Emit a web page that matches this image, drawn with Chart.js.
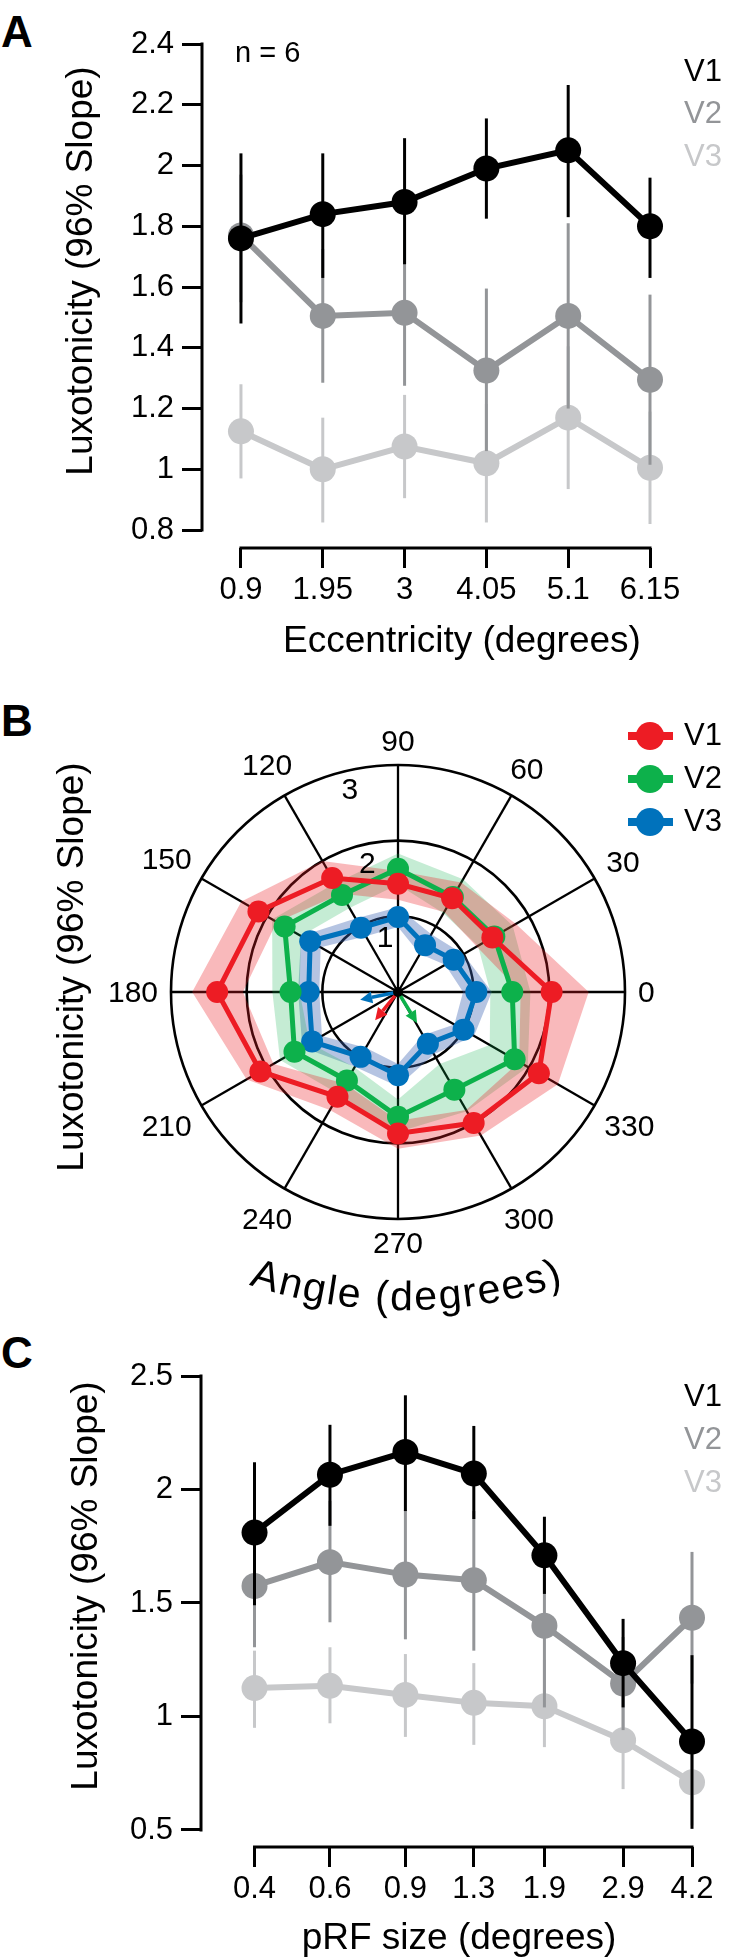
<!DOCTYPE html>
<html>
<head>
<meta charset="utf-8">
<title>Luxotonicity</title>
<script src="https://cdn.jsdelivr.net/npm/chart.js@4.4.1/dist/chart.umd.min.js"></script>
<style>
  body { margin: 0; background: #fff; width: 731px; height: 1958px; position: relative; overflow: hidden;
         font-family: 'Liberation Sans', Arial, Helvetica, sans-serif; }
  canvas { position: absolute; left: 0; }
  .tag { position: absolute; left: 1px; font-weight: bold; font-size: 44px; line-height: 44px; }
</style>
</head>
<body>
<div class="tag" style="top:10px">A</div>
<div class="tag" style="top:699px">B</div>
<div class="tag" style="top:1331px">C</div>
<canvas id="chartA" width="731" height="690" style="top:0"></canvas>
<canvas id="chartB" width="731" height="650" style="top:680px"></canvas>
<canvas id="chartC" width="731" height="658" style="top:1300px"></canvas>
<script>
const FONT = "'Liberation Sans', Arial, Helvetica, sans-serif";
Chart.defaults.font.family = FONT;
Chart.defaults.color = '#000';

// ---------- DATA ----------
const SERIES = ['V1', 'V2', 'V3'];

// A: eccentricity
const ECC = [0.9, 1.95, 3, 4.05, 5.1, 6.15];
const A_Y_TICKS = [0.8, 1, 1.2, 1.4, 1.6, 1.8, 2, 2.2, 2.4];
const A_V1 = [1.76, 1.84, 1.88, 1.99, 2.05, 1.80];
const A_V1_LO = [1.48, 1.63, 1.675, 1.825, 1.83, 1.63];
const A_V1_HI = [2.04, 2.04, 2.09, 2.155, 2.265, 1.96];
const A_V2 = [1.77, 1.505, 1.515, 1.325, 1.505, 1.295];
const A_V2_LO = [1.55, 1.285, 1.275, 1.06, 1.20, 1.015];
const A_V2_HI = [1.97, 1.725, 1.755, 1.595, 1.81, 1.575];
const A_V3 = [1.125, 1.0, 1.075, 1.02, 1.17, 1.005];
const A_V3_LO = [0.97, 0.825, 0.905, 0.825, 0.935, 0.82];
const A_V3_HI = [1.28, 1.17, 1.245, 1.215, 1.405, 1.19];

// B: polar angle
const ANGLES = [0, 30, 60, 90, 120, 150, 180, 210, 240, 270, 300, 330];
const B_RINGS = [1, 2, 3];
const B_V1 = [2.03, 1.44, 1.43, 1.43, 1.74, 2.13, 2.39, 2.10, 1.60, 1.87, 2.00, 2.15];
const B_V1_LO = [1.62, 1.20, 1.22, 1.22, 1.50, 1.85, 2.05, 1.90, 1.40, 1.70, 1.80, 1.85];
const B_V1_HI = [2.52, 1.80, 1.67, 1.60, 2.00, 2.39, 2.72, 2.31, 1.80, 2.07, 2.19, 2.44];
const B_V2 = [1.51, 1.47, 1.45, 1.63, 1.48, 1.73, 1.42, 1.58, 1.35, 1.65, 1.49, 1.78];
const B_V2_LO = [1.22, 1.22, 1.20, 1.42, 1.28, 1.48, 1.30, 1.35, 1.15, 1.42, 1.10, 1.40];
const B_V2_HI = [1.75, 1.75, 1.72, 1.83, 1.66, 1.92, 1.66, 1.80, 1.56, 1.85, 1.82, 1.98];
const B_V3 = [1.035, 0.85, 0.715, 0.99, 0.98, 1.34, 1.18, 1.31, 0.99, 1.10, 0.79, 1.0];
const B_V3_LO = [0.86, 0.72, 0.58, 0.86, 0.85, 1.18, 1.04, 1.16, 0.85, 0.95, 0.66, 0.86];
const B_V3_HI = [1.24, 1.00, 0.88, 1.12, 1.12, 1.48, 1.32, 1.46, 1.14, 1.25, 0.95, 1.16];
const ARROW_ANGLE = [231, 301.5, 191.5];   // degrees, counter-clockwise from 0
const ARROW_LEN = [0.48, 0.48, 0.51];

// C: pRF size
const PRF = [0.4, 0.6, 0.9, 1.3, 1.9, 2.9, 4.2];
const C_Y_TICKS = [0.5, 1, 1.5, 2, 2.5];
const C_V1 = [1.81, 2.065, 2.165, 2.07, 1.71, 1.235, 0.89];
const C_V1_LO = [1.49, 1.84, 1.905, 1.87, 1.54, 1.04, 0.505];
const C_V1_HI = [2.12, 2.285, 2.415, 2.28, 1.88, 1.43, 1.27];
const C_V2 = [1.575, 1.68, 1.625, 1.6, 1.40, 1.145, 1.435];
const C_V2_LO = [1.305, 1.415, 1.34, 1.29, 1.04, 0.94, 1.145];
const C_V2_HI = [1.845, 1.95, 1.91, 1.905, 1.76, 1.35, 1.725];
const C_V3 = [1.125, 1.135, 1.095, 1.06, 1.045, 0.895, 0.71];
const C_V3_LO = [0.95, 0.97, 0.91, 0.875, 0.865, 0.68, 0.52];
const C_V3_HI = [1.29, 1.305, 1.275, 1.235, 1.25, 1.11, 0.9];

// ---------- STYLE ----------
const GRAYS = ['#000000', '#939598', '#c7c8ca'];
const POLAR_COLORS = ['#ed1c24', '#0db14b', '#0072bc'];
const BAND_COLORS = ['rgba(237,28,36,0.31)', 'rgba(11,176,75,0.24)', 'rgba(60,100,180,0.38)'];
const TICK_SIZE = 31;
const TITLE_SIZE = 37;
const Y_TITLE = 'Luxotonicity (96% Slope)';

// ---------- PLUGINS ----------
// error bars go under their own series but over the series drawn before
const errorBars = {
  id: 'errorBars',
  beforeDatasetDraw(chart, args) {
    const ds = chart.data.datasets[args.index];
    if (!ds.errLo) return;
    const y = chart.scales.y, ctx = chart.ctx;
    ctx.save();
    ctx.strokeStyle = ds.borderColor;
    ctx.lineWidth = 3;
    args.meta.data.forEach((pt, i) => {
      ctx.beginPath();
      ctx.moveTo(pt.x, y.getPixelForValue(ds.errLo[i]));
      ctx.lineTo(pt.x, y.getPixelForValue(ds.errHi[i]));
      ctx.stroke();
    });
    ctx.restore();
  }
};

// axis lines only span first..last tick (detached axes)
const axisLines = {
  id: 'axisLines',
  beforeDatasetsDraw(chart) {
    const {ctx, chartArea, scales: {x, y}} = chart;
    const xt = x.ticks, yt = y.ticks;
    ctx.save();
    ctx.strokeStyle = '#000';
    ctx.lineWidth = 3;
    ctx.beginPath();
    ctx.moveTo(chartArea.left, y.getPixelForValue(yt[0].value) + 1.5);
    ctx.lineTo(chartArea.left, y.getPixelForValue(yt[yt.length - 1].value) - 1.5);
    ctx.moveTo(x.getPixelForValue(xt[0].value) - 1.5, chartArea.bottom);
    ctx.lineTo(x.getPixelForValue(xt[xt.length - 1].value) + 1.5, chartArea.bottom);
    ctx.stroke();
    ctx.restore();
  }
};

// axis titles placed where the figure has them (not centred on the axis)
const axisTitles = {
  id: 'axisTitles',
  afterDraw(chart, args, opts) {
    const ctx = chart.ctx;
    ctx.save();
    ctx.font = `${TITLE_SIZE}px ${FONT}`;
    ctx.fillStyle = '#000';
    ctx.textAlign = 'center';
    ctx.textBaseline = 'middle';
    if (opts.x) ctx.fillText(opts.x.text, opts.x.cx, opts.x.cy);
    ctx.translate(opts.y.cx, opts.y.cy);
    ctx.rotate(-Math.PI / 2);
    ctx.fillText(Y_TITLE, 0, 0);
    ctx.restore();
  }
};

// colored series names, plus optional line+dot key
const seriesKey = {
  id: 'seriesKey',
  afterDraw(chart, args, opts) {
    const ctx = chart.ctx;
    ctx.save();
    ctx.font = `${opts.size}px ${FONT}`;
    ctx.textBaseline = 'middle';
    ctx.textAlign = 'left';
    chart.data.datasets.slice(0, 3).forEach((ds, i) => {
      const yy = opts.y + i * opts.dy;
      if (opts.marker) {
        ctx.strokeStyle = ds.borderColor;
        ctx.fillStyle = ds.borderColor;
        ctx.lineWidth = 8;
        ctx.beginPath();
        ctx.moveTo(opts.marker.x - 22, yy);
        ctx.lineTo(opts.marker.x + 23, yy);
        ctx.stroke();
        ctx.beginPath();
        ctx.arc(opts.marker.x, yy, 14, 0, Math.PI * 2);
        ctx.fill();
        ctx.fillStyle = '#000';
      } else {
        ctx.fillStyle = ds.borderColor;
      }
      ctx.fillText(ds.label, opts.x, yy);
    });
    if (opts.note) {
      ctx.fillStyle = '#000';
      ctx.font = `29px ${FONT}`;
      ctx.textBaseline = 'alphabetic';
      ctx.fillText(opts.note.text, opts.note.x, opts.note.y);
    }
    ctx.restore();
  }
};

function lineSets(xs, means, los, his) {
  return means.map((m, s) => ({
    label: SERIES[s],
    data: xs.map((x, i) => ({x, y: m[i]})),
    errLo: los[s],
    errHi: his[s],
    borderColor: GRAYS[s],
    backgroundColor: GRAYS[s],
    borderWidth: 6,
    pointRadius: 13,
    pointHoverRadius: 13,
    pointBorderWidth: 0,
    tension: 0,
    clip: false
  }));
}

function yAxis(min, max, ticks, width) {
  return {
    min, max,
    afterFit: s => { s.width = width; },
    afterBuildTicks: s => { s.ticks = ticks.map(v => ({value: v})); },
    ticks: { font: {size: TICK_SIZE}, padding: 8, color: '#000', autoSkip: false, callback: v => String(v) },
    grid: { drawOnChartArea: false, tickLength: 20, tickWidth: 3, tickColor: '#000' },
    border: { display: false }
  };
}

function xAxis(type, min, max, ticks, height) {
  return {
    type, min, max,
    afterFit: s => { s.height = height; },
    afterBuildTicks: s => { s.ticks = ticks.map(v => ({value: v})); },
    ticks: { font: {size: TICK_SIZE}, padding: 4, color: '#000', autoSkip: false, maxRotation: 0, callback: v => String(v) },
    grid: { drawOnChartArea: false, tickLength: 20, tickWidth: 3, tickColor: '#000' },
    border: { display: false }
  };
}

// ---------- PANEL A ----------
new Chart(document.getElementById('chartA'), {
  type: 'line',
  data: { datasets: lineSets(ECC, [A_V1, A_V2, A_V3], [A_V1_LO, A_V2_LO, A_V3_LO], [A_V1_HI, A_V2_HI, A_V3_HI]) },
  options: {
    responsive: false,
    animation: false,
    layout: { padding: {left: 0, top: 44, right: 81, bottom: 0} },
    plugins: {
      legend: {display: false},
      tooltip: {enabled: false},
      axisTitles: {x: {text: 'Eccentricity (degrees)', cx: 462, cy: 642}, y: {cx: 82, cy: 271}},
      seriesKey: {x: 684, y: 72, dy: 42.5, size: 31, note: {text: 'n = 6', x: 235, y: 62}}
    },
    scales: {
      x: xAxis('linear', 0.4, 6.15, ECC, 142),
      y: yAxis(0.741, 2.4, A_Y_TICKS, 202)
    }
  },
  plugins: [errorBars, axisLines, axisTitles, seriesKey]
});

// ---------- PANEL B ----------
// radar goes clockwise from startAngle, so walk the angles backwards
const RADAR_IDX = ANGLES.map((_, k) => (ANGLES.length - k) % ANGLES.length);
const radar = arr => RADAR_IDX.map(i => arr[i]);

const polarMeans = [B_V1, B_V2, B_V3];
const polarLo = [B_V1_LO, B_V2_LO, B_V3_LO];
const polarHi = [B_V1_HI, B_V2_HI, B_V3_HI];

const polarSets = polarMeans.map((m, s) => ({
  label: SERIES[s],
  data: radar(m),
  borderColor: POLAR_COLORS[s],
  backgroundColor: POLAR_COLORS[s],
  pointBackgroundColor: POLAR_COLORS[s],
  borderWidth: 5,
  pointRadius: 11,
  pointHoverRadius: 11,
  pointBorderWidth: 0,
  fill: false
}));
polarMeans.forEach((m, s) => {
  polarSets.push({
    label: SERIES[s] + ' hi',
    data: radar(polarHi[s]),
    borderColor: 'transparent',
    backgroundColor: BAND_COLORS[s],
    borderWidth: 0,
    pointRadius: 0,
    fill: '+1'
  }, {
    label: SERIES[s] + ' lo',
    data: radar(polarLo[s]),
    borderColor: 'transparent',
    backgroundColor: 'transparent',
    borderWidth: 0,
    pointRadius: 0,
    fill: false
  });
});

function drawArcText(ctx, text, cx, cy, r, size, spacing) {
  ctx.save();
  ctx.font = `${size}px ${FONT}`;
  ctx.fillStyle = '#000';
  ctx.textAlign = 'center';
  ctx.textBaseline = 'alphabetic';
  const total = ctx.measureText(text).width + spacing * (text.length - 1);
  let a = Math.PI / 2 + total / 2 / r;
  for (const ch of text) {
    const w = ctx.measureText(ch).width;
    const mid = a - w / 2 / r;
    ctx.save();
    ctx.translate(cx + r * Math.cos(mid), cy + r * Math.sin(mid));
    ctx.rotate(mid - Math.PI / 2);
    ctx.fillText(ch, 0, 0);
    ctx.restore();
    a -= (w + spacing) / r;
  }
  ctx.restore();
}

const polarDecor = {
  id: 'polarDecor',
  afterDatasetsDraw(chart) {
    const ctx = chart.ctx, r = chart.scales.r;
    const cx = r.xCenter, cy = r.yCenter;
    // mean-direction arrows
    polarMeans.forEach((m, s) => {
      const th = -ARROW_ANGLE[s] * Math.PI / 180;
      const d = r.getDistanceFromCenterForValue(ARROW_LEN[s]);
      const tx = cx + d * Math.cos(th), ty = cy + d * Math.sin(th);
      const head = 12, half = 6;
      const bx = tx - head * Math.cos(th), by = ty - head * Math.sin(th);
      ctx.save();
      ctx.strokeStyle = POLAR_COLORS[s];
      ctx.fillStyle = POLAR_COLORS[s];
      ctx.lineWidth = 3.5;
      ctx.beginPath();
      ctx.moveTo(cx, cy);
      ctx.lineTo(bx, by);
      ctx.stroke();
      ctx.beginPath();
      ctx.moveTo(tx, ty);
      ctx.lineTo(bx - half * Math.sin(th), by + half * Math.cos(th));
      ctx.lineTo(bx + half * Math.sin(th), by - half * Math.cos(th));
      ctx.closePath();
      ctx.fill();
      ctx.restore();
    });
    ctx.save();
    ctx.fillStyle = '#000';
    ctx.beginPath();
    ctx.arc(cx, cy, 5, 0, Math.PI * 2);
    ctx.fill();
    ctx.restore();
  },
  afterDraw(chart) {
    const ctx = chart.ctx, r = chart.scales.r;
    const R = r.drawingArea;
    ctx.save();
    ctx.font = `${TICK_SIZE - 1}px ${FONT}`;
    ctx.fillStyle = '#000';
    ctx.textAlign = 'center';
    ctx.textBaseline = 'middle';
    // angle labels round the outer ring
    chart.data.labels.forEach((lab, i) => {
      const w = ctx.measureText(lab).width, h = 0.72 * (TICK_SIZE - 1);
      const probe = r.getPointPosition(i, R);
      const ext = Math.abs(Math.cos(probe.angle)) * w / 2 + Math.abs(Math.sin(probe.angle)) * h / 2;
      const p = r.getPointPosition(i, R + 13 + ext);
      ctx.fillText(lab, p.x, p.y + 2);
    });
    // ring values, just inside each ring
    const th = -103.5 * Math.PI / 180;
    B_RINGS.forEach(v => {
      const d = r.getDistanceFromCenterForValue(v - 0.27);
      ctx.fillText(String(v), r.xCenter + d * Math.cos(th), r.yCenter + d * Math.sin(th));
    });
    ctx.restore();
    // curved axis title under the dial: baseline circle of radius 500
    drawArcText(ctx, 'Angle (degrees)', r.xCenter + 8, r.yCenter - 182, 500, 41, 2);
  }
};

new Chart(document.getElementById('chartB'), {
  type: 'radar',
  data: { labels: radar(ANGLES).map(String), datasets: polarSets },
  options: {
    responsive: false,
    animation: false,
    layout: { padding: {left: 171, right: 106, top: 85, bottom: 111} },
    elements: { line: {tension: 0} },
    plugins: {
      legend: {display: false},
      tooltip: {enabled: false},
      filler: {drawTime: 'beforeDatasetsDraw', propagate: false},
      axisTitles: {y: {cx: 73, cy: 287}},
      seriesKey: {x: 684, y: 56, dy: 43, size: 31, marker: {x: 650}}
    },
    scales: {
      r: {
        min: 0, max: 3,
        startAngle: 90,
        ticks: {display: false, stepSize: 1},
        pointLabels: {display: false},
        grid: {circular: true, color: '#000', lineWidth: 2.6},
        angleLines: {color: '#000', lineWidth: 2.3}
      }
    }
  },
  plugins: [polarDecor, axisTitles, seriesKey]
});

// ---------- PANEL C ----------
new Chart(document.getElementById('chartC'), {
  type: 'line',
  data: { datasets: lineSets(PRF, [C_V1, C_V2, C_V3], [C_V1_LO, C_V2_LO, C_V3_LO], [C_V1_HI, C_V2_HI, C_V3_HI]) },
  options: {
    responsive: false,
    animation: false,
    layout: { padding: {left: 0, top: 76, right: 39, bottom: 0} },
    plugins: {
      legend: {display: false},
      tooltip: {enabled: false},
      axisTitles: {x: {text: 'pRF size (degrees)', cx: 459, cy: 639}, y: {cx: 87, cy: 286}},
      seriesKey: {x: 684, y: 97, dy: 43, size: 31}
    },
    scales: {
      x: xAxis('logarithmic', 0.334, 4.2, PRF, 111),
      y: yAxis(0.425, 2.5, C_Y_TICKS, 201)
    }
  },
  plugins: [errorBars, axisLines, axisTitles, seriesKey]
});
</script>
</body>
</html>
